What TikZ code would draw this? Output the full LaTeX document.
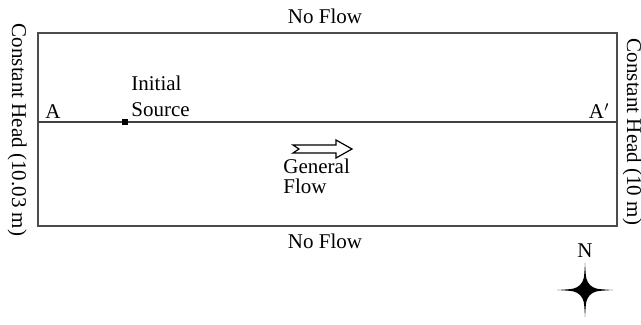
\documentclass[tikz,border=0pt]{standalone}
\usepackage{fontspec}
\setmainfont{Liberation Serif}
\begin{document}
\begin{tikzpicture}[x=0.5pt,y=-0.5pt,
	lbl/.style={inner sep=0pt,font=\fontsize{10.5}{13}\selectfont},
	bound/.style={draw=black!70,line width=1pt},
	sect/.style={draw=black!75,line width=0.8pt}]
	\useasboundingbox (0,0) rectangle (641,325);
	% model domain
	\coordinate (nw) at (38,33);
	\coordinate (se) at (617,226);
	\coordinate (secA) at (38,122);
	\coordinate (secB) at (617,122);
	\draw[bound] (nw) rectangle (se);
	\draw[sect] (secA) -- (secB);
	% boundary labels
	\node[lbl,anchor=base] (topbc) at (325,24) {No Flow};
	\node[lbl,anchor=base] (botbc) at (325,249) {No Flow};
	\node[lbl,anchor=base,rotate=-90] (leftbc) at (12,130) {Constant Head (10.03 m)};
	\node[lbl,anchor=base,rotate=-90] (rightbc) at (627,132) {Constant Head (10 m)};
	\node[lbl,anchor=base west] (A) at (45,119) {A};
	\node[lbl,anchor=base east] (Ap) at (610,119) {A$'$};
	% source
	\node[fill=black,minimum size=3pt,inner sep=0pt] (src) at (125,122) {};
	\node[lbl,anchor=base west] (srcl1) at (131,91) {Initial};
	\node[lbl,anchor=base west] (srcl2) at (131,117) {Source};
	% general flow arrow
	\draw[line width=0.6pt,fill=white] (293,145) -- (336,145) -- (336,140) -- (352,149)
		-- (336,158) -- (336,153) -- (293,153) -- (299,149) -- cycle;
	\node[lbl,anchor=base west] (flow1) at (283,174) {General};
	\node[lbl,anchor=base west] (flow2) at (283,194) {Flow};
	% north arrow
	\node[lbl,anchor=base] (north) at (585,258) {N};
	\fill (585,263) .. controls (586,280) .. (590,285) .. controls (595,289) .. (613,290)
		.. controls (595,291) .. (590,295) .. controls (586,300) .. (585,317)
		.. controls (584,300) .. (580,295) .. controls (575,291) .. (557,290)
		.. controls (575,289) .. (580,285) .. controls (584,280) .. cycle;
\end{tikzpicture}
\end{document}
